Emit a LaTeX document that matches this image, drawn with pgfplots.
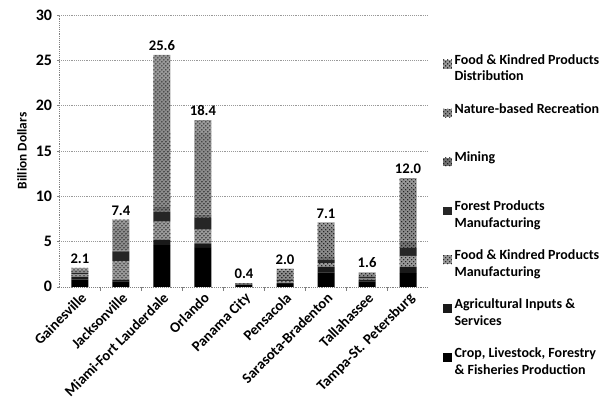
\documentclass[border=0pt]{standalone}
\usepackage{fontspec}
\setmainfont{Carlito}
\usepackage{pgfplots}
\pgfplotsset{compat=1.18}
\usetikzlibrary{patterns}
\usepackage{pgfplotstable}

% values in billion dollars, bottom segment first
\pgfplotstableread{
x crop ag fmfg forest mining nature fdist total
0 0.8  0.3  0.3  0.1  0.0 0.4  0.2 2.1
1 0.6  0.2  2.0  1.1  0.1 2.5  0.9 7.4
2 4.6  0.6  2.0  1.1  0.5 14.0 2.8 25.6
3 4.3  0.5  1.5  1.3  0.4 9.0  1.4 18.4
4 0.2  0.05 0.05 0.05 0.0 0.05 0.0 0.4
5 0.3  0.1  0.2  0.2  0.0 1.0  0.2 2.0
6 1.6  0.6  0.4  0.4  0.3 3.2  0.6 7.1
7 0.6  0.2  0.1  0.2  0.0 0.4  0.1 1.6
8 1.5  0.7  1.2  0.9  0.8 5.8  1.1 12.0
}\datatable

\pgfplotsset{
  frame/.style={scale only axis, width=277pt, height=204pt,
    xmin=-0.5, xmax=8.5, ymin=0, ymax=30},
}

\begin{document}
\begin{tikzpicture}[font=\bfseries\fontsize{11}{13.2}\selectfont]
\begin{axis}[
  frame,
  ybar stacked,
  bar width=12.75pt,
  ytick={0,5,...,30},
  xtick={0,...,8},
  xticklabels={Gainesville, Jacksonville, Miami-Fort Lauderdale, Orlando, Panama City, Pensacola, Sarasota-Bradenton, Tallahassee, Tampa-St. Petersburg},
  xticklabel style={rotate=45, anchor=north east, inner sep=1pt},
  yticklabel style={font=\bfseries\fontsize{12}{14}\selectfont},
  minor x tick num=1,
  major x tick style={draw=none},
  minor tick length=3pt,
  major tick length=2pt,
  tick align=outside,
  tick style={gray},
  axis x line*=bottom,
  axis y line*=left,
  axis line style={gray, densely dotted, -},
  ymajorgrids,
  major grid style={gray!80, densely dotted},
  /pgf/number format/assume math mode=true,
  ylabel={Billion Dollars},
  ylabel style={font=\bfseries\fontsize{10}{12}\selectfont},
  clip=false,
  reverse legend,
  legend image code/.code={\path[#1] (0pt,0pt) rectangle (6.5pt,6.5pt);},
  legend style={draw=none, fill=none, inner sep=0pt,
    at={(1.039,0.866)}, anchor=north west,
    row sep=11.2pt,
    font=\bfseries\fontsize{10.5}{12.6}\selectfont,
    nodes={align=left, inner sep=2pt}},
  legend cell align=left,
]
\addplot[fill=black, draw=none] table[x=x, y=crop] {\datatable};
\addlegendentry{Crop, Livestock, Forestry\\\& Fisheries Production}
\addplot[fill=black!90, draw=none] table[x=x, y=ag] {\datatable};
\addlegendentry{Agricultural Inputs \&\\Services}
\addplot[fill=black!40, draw=none, postaction={pattern=crosshatch dots}] table[x=x, y=fmfg] {\datatable};
\addlegendentry{Food \& Kindred Products\\Manufacturing}
\addplot[fill=black!85, draw=none] table[x=x, y=forest] {\datatable};
\addlegendentry{Forest Products\\Manufacturing}
\addplot[fill=black!55, draw=none, postaction={pattern=crosshatch dots}] table[x=x, y=mining] {\datatable};
\addlegendentry{Mining\\\strut}
\addplot[fill=black!45, draw=none, postaction={pattern=crosshatch dots}] table[x=x, y=nature] {\datatable};
\addlegendentry{Nature-based Recreation\\\strut}
\addplot[fill=black!40, draw=none, postaction={pattern=crosshatch dots}] table[x=x, y=fdist] {\datatable};
\addlegendentry{Food \& Kindred Products\\Distribution}
\coordinate (bl) at (rel axis cs:-0.161,-0.430);
\coordinate (tr) at (rel axis cs:1.478,1.055);
\end{axis}
% totals above the bars
\begin{axis}[frame, hide axis, clip=false]
\addplot[only marks, mark=none,
  point meta=explicit symbolic,
  nodes near coords={\pgfplotspointmeta},
  every node near coord/.append style={anchor=south, inner sep=3pt}]
  table[x=x, y=total, meta=total] {\datatable};
\end{axis}
\pgfresetboundingbox
\path (bl) rectangle (tr);
\end{tikzpicture}
\end{document}
